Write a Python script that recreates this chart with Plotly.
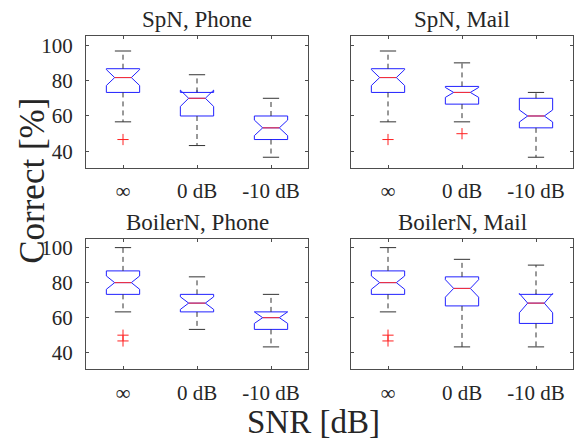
import plotly.graph_objects as go

# ---- data ----
categories = ["∞", "0 dB", "-10 dB"]
panel_titles = ["SpN, Phone", "SpN, Mail", "BoilerN, Phone", "BoilerN, Mail"]

spn_phone_q1 = [73.3, 60.0, 46.7]
spn_phone_med = [81.7, 70.0, 53.3]
spn_phone_q3 = [86.7, 73.3, 60.0]
spn_phone_lo = [56.7, 43.3, 36.7]
spn_phone_hi = [96.7, 83.3, 70.0]
spn_phone_notch = [4.5, 4.6, 4.4]
spn_phone_out = [[46.7], [], []]

spn_mail_q1 = [73.3, 66.7, 53.3]
spn_mail_med = [81.7, 73.3, 60.0]
spn_mail_q3 = [86.7, 76.7, 70.0]
spn_mail_lo = [56.7, 56.7, 36.7]
spn_mail_hi = [96.7, 90.0, 73.3]
spn_mail_notch = [4.5, 2.8, 3.4]
spn_mail_out = [[46.7], [50.0], []]

boiler_phone_q1 = [73.3, 63.3, 53.3]
boiler_phone_med = [80.0, 68.3, 60.0]
boiler_phone_q3 = [86.7, 73.3, 63.3]
boiler_phone_lo = [63.3, 53.3, 43.3]
boiler_phone_hi = [100.0, 83.3, 73.3]
boiler_phone_notch = [3.8, 3.6, 3.3]
boiler_phone_out = [[50.0, 46.7], [], []]

boiler_mail_q1 = [73.3, 66.7, 56.7]
boiler_mail_med = [80.0, 76.7, 68.3]
boiler_mail_q3 = [86.7, 83.3, 73.3]
boiler_mail_lo = [63.3, 43.3, 43.3]
boiler_mail_hi = [100.0, 93.3, 90.0]
boiler_mail_notch = [3.8, 5.0, 5.5]
boiler_mail_out = [[50.0, 46.7], [], []]

panels = [
    (spn_phone_q1, spn_phone_med, spn_phone_q3, spn_phone_lo, spn_phone_hi, spn_phone_notch, spn_phone_out),
    (spn_mail_q1, spn_mail_med, spn_mail_q3, spn_mail_lo, spn_mail_hi, spn_mail_notch, spn_mail_out),
    (boiler_phone_q1, boiler_phone_med, boiler_phone_q3, boiler_phone_lo, boiler_phone_hi, boiler_phone_notch, boiler_phone_out),
    (boiler_mail_q1, boiler_mail_med, boiler_mail_q3, boiler_mail_lo, boiler_mail_hi, boiler_mail_notch, boiler_mail_out),
]

# ---- styling / layout ----
W, H = 575, 441
FONT = "Liberation Serif, Times New Roman, serif"
TXT = "#262626"
AXC = "#4d4d4d"
BOXW = 0.45
NOTCHW = 0.25
CAPHW = 0.11

x_domains = [[86 / W, 308 / W], [351 / W, 573 / W]]
y_domains = [[1 - 166 / H, 1 - 33 / H], [1 - 369 / H, 1 - 238 / H]]
y_ranges = [[30.7, 105.3], [30.4, 104.7]]

positions = [1, 2, 3]

fig = go.Figure()

for p, (q1, med, q3, lo, hi, notch, out) in enumerate(panels):
    xa = "x" if p == 0 else f"x{p+1}"
    ya = "y" if p == 0 else f"y{p+1}"
    fig.add_trace(go.Box(
        x=positions, q1=q1, median=med, q3=q3,
        lowerfence=q1, upperfence=q3, notchspan=notch,
        notched=True, notchwidth=NOTCHW, width=BOXW, whiskerwidth=0,
        boxpoints=False,
        line=dict(color="#2020ff", width=1), fillcolor="rgba(0,0,0,0)",
        xaxis=xa, yaxis=ya, showlegend=False, hoverinfo="skip",
    ))
    wx, wy = [], []
    cx, cy = [], []
    mx, my = [], []
    for i, pos in enumerate(positions):
        wx += [pos, pos, None, pos, pos, None]
        wy += [q3[i], hi[i], None, q1[i], lo[i], None]
        cx += [pos - CAPHW, pos + CAPHW, None, pos - CAPHW, pos + CAPHW, None]
        cy += [hi[i], hi[i], None, lo[i], lo[i], None]
        hw = BOXW / 2 * (1 - 2 * NOTCHW)
        mx += [pos - hw, pos + hw, None]
        my += [med[i], med[i], None]
    fig.add_trace(go.Scatter(x=wx, y=wy, mode="lines",
                             line=dict(color="#333333", width=1, dash="5px,4px"),
                             xaxis=xa, yaxis=ya, showlegend=False, hoverinfo="skip"))
    fig.add_trace(go.Scatter(x=cx, y=cy, mode="lines",
                             line=dict(color="#333333", width=1),
                             xaxis=xa, yaxis=ya, showlegend=False, hoverinfo="skip"))
    fig.add_trace(go.Scatter(x=mx, y=my, mode="lines",
                             line=dict(color="#ff3030", width=1),
                             xaxis=xa, yaxis=ya, showlegend=False, hoverinfo="skip"))
    ox, oy = [], []
    for i, pos in enumerate(positions):
        for v in out[i]:
            ox.append(pos)
            oy.append(v)
    if ox:
        fig.add_trace(go.Scatter(x=ox, y=oy, mode="markers",
                                 marker=dict(symbol="cross-thin", size=8,
                                             line=dict(color="#ff2020", width=1)),
                                 xaxis=xa, yaxis=ya, showlegend=False, hoverinfo="skip"))

layout = dict(
    width=W, height=H,
    margin=dict(l=0, r=0, t=0, b=0),
    paper_bgcolor="white", plot_bgcolor="white",
    font=dict(family=FONT, color=TXT, size=21),
)

for p in range(4):
    col = p % 2
    row = p // 2
    xk = "xaxis" if p == 0 else f"xaxis{p+1}"
    yk = "yaxis" if p == 0 else f"yaxis{p+1}"
    ya_name = "y" if p == 0 else f"y{p+1}"
    xa_name = "x" if p == 0 else f"x{p+1}"
    layout[xk] = dict(
        domain=x_domains[col], anchor=ya_name, range=[0.5, 3.5],
        tickmode="array", tickvals=positions, ticktext=categories,
        showline=True, mirror="ticks", linecolor=AXC, linewidth=1,
        ticks="inside", ticklen=3, tickcolor=AXC,
        showgrid=False, zeroline=False, ticklabelstandoff=4,
        tickfont=dict(family=FONT, size=21, color=TXT),
    )
    layout[yk] = dict(
        domain=y_domains[row], anchor=xa_name, range=y_ranges[row],
        tickmode="array", tickvals=[40, 60, 80, 100],
        showticklabels=(col == 0),
        showline=True, mirror="ticks", linecolor=AXC, linewidth=1,
        ticks="inside", ticklen=3, tickcolor=AXC,
        showgrid=False, zeroline=False, ticklabelstandoff=8,
        tickfont=dict(family=FONT, size=21, color=TXT),
    )

annotations = []
for p, t in enumerate(panel_titles):
    col = p % 2
    row = p // 2
    xc = (x_domains[col][0] + x_domains[col][1]) / 2
    annotations.append(dict(text=t, x=xc, y=y_domains[row][1], xref="paper", yref="paper",
                            xanchor="center", yanchor="bottom", yshift=2, showarrow=False,
                            font=dict(family=FONT, size=23, color=TXT)))
annotations.append(dict(text="Correct [%]", x=33 / W, y=1 - 179 / H, xref="paper", yref="paper",
                        xanchor="center", yanchor="middle", textangle=-90, showarrow=False,
                        font=dict(family=FONT, size=35, color=TXT)))
annotations.append(dict(text="SNR [dB]", x=313 / W, y=1 - 422 / H, xref="paper", yref="paper",
                        xanchor="center", yanchor="middle", showarrow=False,
                        font=dict(family=FONT, size=33, color=TXT)))
layout["annotations"] = annotations

fig.update_layout(**layout)
fig.write_html("out.html",
               config={"displayModeBar": False},
               post_script="document.body.style.margin='0px';document.body.style.overflow='hidden';")
